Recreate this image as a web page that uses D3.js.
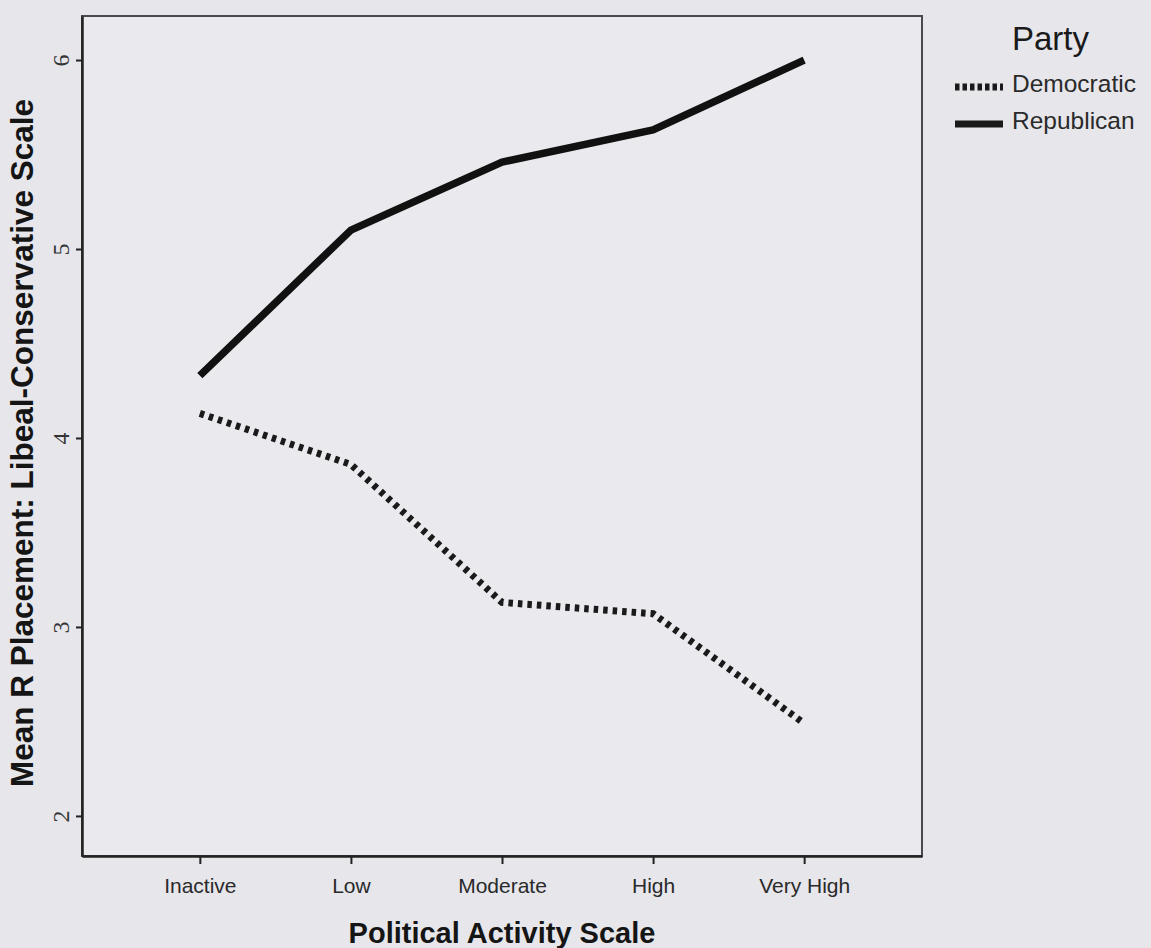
<!DOCTYPE html>
<html>
<head>
<meta charset="utf-8">
<script src="https://cdn.jsdelivr.net/npm/d3@7"></script>
<style>
  html, body { margin: 0; padding: 0; background: #e6e6eb; }
  svg { display: block; }
</style>
</head>
<body>
<div id="chart"></div>
<script>
// ---- data ----
const categories = ["Inactive", "Low", "Moderate", "High", "Very High"];
const democratic = [4.13, 3.86, 3.13, 3.07, 2.49];
const republican = [4.33, 5.10, 5.46, 5.63, 6.00];
const seriesNames = ["Democratic", "Republican"];
const yTicks = [2, 3, 4, 5, 6];
const yDomain = [1.788, 6.233];
const xTitle = "Political Activity Scale";
const yTitle = "Mean R Placement: Libeal-Conservative Scale";
const legendTitle = "Party";

// ---- layout ----
const W = 1151, H = 948;
const plot = { left: 82, top: 16, right: 922, bottom: 856 };

const svg = d3.select("#chart").append("svg")
  .attr("width", W).attr("height", H)
  .style("background", "#e6e6eb");

const x = d3.scalePoint().domain(categories).range([plot.left, plot.right]).padding(0.78);
const y = d3.scaleLinear().domain(yDomain).range([plot.bottom, plot.top]);

// frame
svg.append("rect")
  .attr("x", plot.left).attr("y", plot.top)
  .attr("width", plot.right - plot.left).attr("height", plot.bottom - plot.top)
  .attr("fill", "#e9e9ee").attr("stroke", "#4a4a4e").attr("stroke-width", 2);

// x axis
const gx = svg.append("g").attr("transform", `translate(0,${plot.bottom})`)
  .call(d3.axisBottom(x).tickSize(8).tickSizeOuter(0));
gx.select(".domain").attr("stroke", "#222").attr("stroke-width", 2.5);
gx.selectAll(".tick line").attr("stroke", "#222").attr("stroke-width", 2);
gx.selectAll(".tick text")
  .attr("y", 37).attr("dy", 0)
  .style("font-family", "'Liberation Sans', Arial, sans-serif")
  .style("font-size", "21px").attr("fill", "#2a2a2a");

// y axis
const gy = svg.append("g").attr("transform", `translate(${plot.left},0)`)
  .call(d3.axisLeft(y).tickValues(yTicks).tickSize(6).tickSizeOuter(0).tickFormat(d3.format("d")));
gy.attr("font-size", null);
gy.select(".domain").attr("stroke", "#222").attr("stroke-width", 2.5);
gy.selectAll(".tick line").attr("stroke", "#222").attr("stroke-width", 2);
gy.selectAll(".tick text")
  .attr("transform", "rotate(-90)")
  .attr("x", 0).attr("y", -13).attr("dy", 0)
  .attr("text-anchor", "middle")
  .attr("font-size", 24)
  .style("font-family", "'Liberation Serif', serif")
  .style("font-size", "24px").attr("fill", "#333");

// lines
const line = d3.line().x((d, i) => x(categories[i])).y(d => y(d));

svg.append("path").datum(republican)
  .attr("d", line).attr("fill", "none")
  .attr("stroke", "#111").attr("stroke-width", 7.5)
  .attr("stroke-linejoin", "round");

svg.append("path").datum(democratic)
  .attr("d", line).attr("fill", "none")
  .attr("stroke", "#1a1a1a").attr("stroke-width", 7)
  .attr("stroke-dasharray", "4.5,5");

// titles
svg.append("text")
  .attr("x", x("Moderate")).attr("y", 943)
  .attr("text-anchor", "middle")
  .style("font-family", "'Liberation Sans', Arial, sans-serif")
  .style("font-weight", "bold").style("font-size", "29px")
  .attr("fill", "#151515").text(xTitle);

svg.append("text")
  .attr("transform", `translate(33,${(plot.top + plot.bottom) / 2 + 7}) rotate(-90)`)
  .attr("text-anchor", "middle")
  .style("font-family", "'Liberation Sans', Arial, sans-serif")
  .style("font-weight", "bold").style("font-size", "31.5px")
  .attr("fill", "#151515").text(yTitle);

// legend
const lg = svg.append("g");
lg.append("text").attr("x", 1012).attr("y", 50)
  .style("font-family", "'Liberation Sans', Arial, sans-serif")
  .style("font-size", "33px").attr("fill", "#1a1a1a").text(legendTitle);

const legendRows = [
  { name: seriesNames[0], dash: "4.5,3", ly: 87, ty: 92 },
  { name: seriesNames[1], dash: null, ly: 124, ty: 129 }
];
legendRows.forEach(r => {
  lg.append("line").attr("x1", 955).attr("x2", 1003).attr("y1", r.ly).attr("y2", r.ly)
    .attr("stroke", "#1a1a1a").attr("stroke-width", 7)
    .attr("stroke-dasharray", r.dash);
  lg.append("text").attr("x", 1012).attr("y", r.ty)
    .style("font-family", "'Liberation Sans', Arial, sans-serif")
    .style("font-size", "24.5px").attr("fill", "#2a2a2a").text(r.name);
});
</script>
</body>
</html>
